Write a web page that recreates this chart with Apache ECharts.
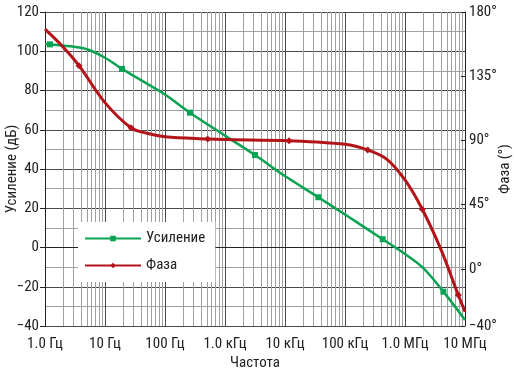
<!DOCTYPE html>
<html>
<head>
<meta charset="utf-8">
<script src="https://cdn.jsdelivr.net/npm/echarts@6/dist/echarts.min.js"></script>
<style>
html,body{margin:0;padding:0;background:#fff;}
#c{width:514px;height:372px;}
</style>
</head>
<body>
<div id="c"></div>
<script>
// ---- data ----
const xTickValues = [1, 10, 100, 1000, 10000, 100000, 1000000, 10000000];
const xTickLabels = ['1.0 Гц', '10 Гц', '100 Гц', '1.0 кГц', '10 кГц', '100 кГц', '1.0 МГц', '10 МГц'];
const phaseTickValues = [-40, 0, 45, 90, 135, 180];

const gainFreq = [1, 1.21, 3, 5, 10, 19.2, 50, 100, 261, 1000, 3160, 10000, 35900, 100000, 425000, 1000000, 2000000, 4360000, 10000000];
const gainDb   = [103.7, 103.5, 102.3, 101, 96.7, 91, 83.5, 78, 68.7, 57, 47.1, 36.4, 25.6, 16.8, 4.2, -3.3, -10.4, -22.5, -36.9];
const gainMarkerIdx = [1, 5, 8, 10, 12, 14, 17];

const phaseFreq = [1, 2, 3.69, 10, 27.1, 50, 100, 513, 1000, 11700, 100000, 239000, 500000, 1000000, 1940000, 4000000, 7740000, 10000000];
const phaseDeg  = [168, 155.5, 142.4, 116.5, 98.9, 95, 92.6, 91, 90.6, 89.8, 87.3, 83.3, 76.8, 62.3, 41.8, 13.3, -18.3, -30];
const phaseMarkerIdx = [2, 4, 7, 9, 11, 14, 16];

// minor log grid positions (2..9 per decade)
const minorGrid = [];
for (let d = 0; d < 7; d++) {
  for (let k = 2; k <= 9; k++) minorGrid.push(k * Math.pow(10, d));
}

function build(fs, vs, marks) {
  return fs.map((f, i) => marks.indexOf(i) >= 0 ? { value: [f, vs[i]] } : { value: [f, vs[i]], symbol: 'none' });
}

// pick a condensed font if one is installed
function hasFont(f) {
  const ctx = document.createElement('canvas').getContext('2d');
  const s = 'Усиление Фаза 1234';
  ctx.font = '40px monospace';
  const a = ctx.measureText(s).width;
  ctx.font = '40px "' + f + '", monospace';
  return Math.abs(ctx.measureText(s).width - a) > 0.5;
}
let FONT = '"Liberation Sans", Arial, sans-serif';
let FS = 14;
const narrow = ['Liberation Sans Narrow', 'Roboto Condensed', 'DejaVu Sans Condensed', 'Open Sans Condensed'];
for (const f of narrow) { if (hasFont(f)) { FONT = '"' + f + '", "Liberation Sans", sans-serif'; FS = (f === 'DejaVu Sans Condensed') ? 13 : 15; break; } }

const GREEN = '#0aa352';
const RED = '#b3141a';
const DARK = '#4a4a4a';
const LIGHT = '#a0a0a0';
const TXT = '#222';

const chart = echarts.init(document.getElementById('c'), null, { renderer: 'canvas' });
chart.setOption({
  animation: false,
  backgroundColor: '#fff',
  textStyle: { fontFamily: FONT },
  grid: { left: 45, right: 49, top: 12, bottom: 46, containLabel: false, outerBoundsMode: 'none' },
  legend: {
    orient: 'vertical',
    left: 78, top: 222, z: 20,
    backgroundColor: '#fff',
    padding: [9, 10, 9, 6],
    itemWidth: 56, itemHeight: 7, itemGap: 12,
    textStyle: { fontFamily: FONT, fontSize: FS, color: TXT },
    data: ['Усиление', 'Фаза']
  },
  xAxis: {
    type: 'log', logBase: 10, min: 1, max: 10000000,
    splitNumber: 7,
    name: 'Частота', nameLocation: 'middle', nameGap: 30, nameMoveOverlap: false,
    nameTextStyle: { fontFamily: FONT, fontSize: FS, color: TXT },
    axisLine: { show: true, lineStyle: { color: TXT, width: 1 } },
    axisTick: { show: false },
    axisLabel: {
      fontFamily: FONT, fontSize: FS, color: TXT, margin: 11,
      formatter: v => { const i = xTickValues.findIndex(t => Math.abs(t - v) / t < 1e-6); return i >= 0 ? xTickLabels[i] : ''; }
    },
    splitLine: { show: true, lineStyle: { color: DARK, width: 1 } }
  },
  yAxis: [{
    type: 'value', min: -40, max: 120, interval: 20,
    name: 'Усиление (дБ)', nameLocation: 'middle', nameGap: 25, nameRotate: 90, nameMoveOverlap: false,
    nameTextStyle: { fontFamily: FONT, fontSize: FS, color: TXT },
    axisLine: { show: true, lineStyle: { color: TXT, width: 1 } },
    axisTick: { show: true, length: 5, lineStyle: { color: TXT } },
    axisLabel: { fontFamily: FONT, fontSize: FS, color: TXT, margin: 6,
      formatter: v => (v < 0 ? '\u2212' + Math.abs(v) : String(v)) },
    splitLine: { show: true, lineStyle: { color: DARK, width: 1 } },
    minorTick: { show: false, splitNumber: 2 },
    minorSplitLine: { show: true, lineStyle: { color: LIGHT, width: 1 } }
  }, {
    type: 'value', min: -40, max: 180, position: 'right',
    name: 'Фаза (°)', nameLocation: 'middle', nameGap: 33, nameRotate: 90, nameMoveOverlap: false,
    nameTextStyle: { fontFamily: FONT, fontSize: FS, color: TXT },
    axisLine: { show: true, lineStyle: { color: TXT, width: 1 } },
    axisTick: { show: true, inside: true, length: 4, customValues: phaseTickValues, lineStyle: { color: TXT } },
    axisLabel: { fontFamily: FONT, fontSize: FS, color: TXT, margin: 4, customValues: phaseTickValues,
      formatter: v => (v < 0 ? '\u2212' + Math.abs(v) : String(v)) + '°' },
    splitLine: { show: false }
  }],
  series: [{
    name: 'minor', type: 'line', data: [], z: 0, silent: true,
    markLine: {
      silent: true, symbol: ['none', 'none'], animation: false, z: 0,
      label: { show: false },
      lineStyle: { color: LIGHT, width: 1, type: 'solid' },
      data: minorGrid.map(v => ({ xAxis: v }))
    }
  }, {
    name: 'Усиление', type: 'line', yAxisIndex: 0, z: 3,
    smooth: 0.35, symbol: 'rect', symbolSize: 6, showSymbol: true,
    lineStyle: { color: GREEN, width: 2.5 },
    itemStyle: { color: GREEN },
    data: build(gainFreq, gainDb, gainMarkerIdx)
  }, {
    name: 'Фаза', type: 'line', yAxisIndex: 1, z: 4,
    smooth: 0.35, symbol: 'diamond', symbolSize: 7, showSymbol: true,
    lineStyle: { color: RED, width: 3 },
    itemStyle: { color: RED },
    data: build(phaseFreq, phaseDeg, phaseMarkerIdx)
  }]
});
</script>
</body>
</html>
